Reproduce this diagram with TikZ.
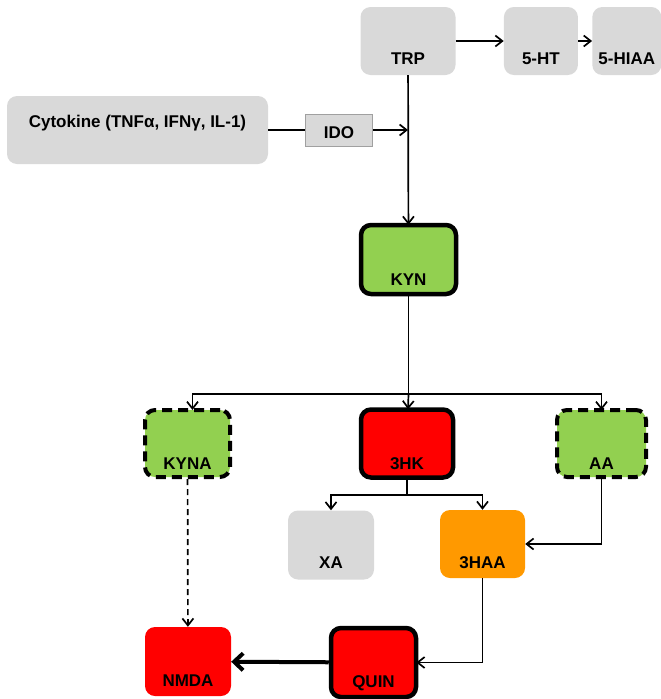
\documentclass[tikz,border=0pt]{standalone}
\usepackage{fontspec}
\setmainfont{Liberation Sans}
\usepackage{tikz}
\usetikzlibrary{arrows.meta,positioning,calc}
\definecolor{boxgrey}{HTML}{D9D9D9}
\definecolor{idoedge}{HTML}{A0A0A0}
\definecolor{kgreen}{HTML}{92D050}
\definecolor{kred}{HTML}{FF0000}
\definecolor{korange}{HTML}{FF9900}

\begin{document}
\begin{tikzpicture}[x=1pt, y=-1pt,
    box/.style={rounded corners=10pt, inner sep=0pt, text depth=9pt,
      font=\fontsize{17}{19}\selectfont\bfseries},
    dims/.style 2 args={minimum width=#1, text height=#2},
    strong/.style={draw=black, line width=4.5pt},
    weak/.style={draw=black, line width=4pt, dash pattern=on 10pt off 6pt},
    line/.style={line width=1.7pt},
    link/.style={line, -{Straight Barb[length=7pt,width=11pt]}}]
\useasboundingbox (0,0) rectangle (661,699);

% top row
\node[box, fill=boxgrey, dims={95pt}{57pt}, text depth=11pt] (trp) at (408,41) {TRP};
\node[box, fill=boxgrey, dims={74pt}{57pt}, text depth=11pt, right=48pt of trp] (ht) {5-HT};
\node[box, fill=boxgrey, dims={69pt}{57pt}, text depth=11pt, right=14pt of ht] (hiaa) {5-HIAA};
\node[box, fill=boxgrey, dims={261pt}{31pt}, text depth=37pt] (cyto) at (137.5,130) {Cytokine (TNFα, IFNγ, IL-1)};
\node[fill=boxgrey, draw=idoedge, line width=1pt, inner sep=0pt, minimum width=67pt,
  text height=24pt, text depth=8pt, font=\fontsize{17}{19}\selectfont\bfseries] (ido) at (339,130) {IDO};

% kynurenine branch
\node[box, fill=kgreen, strong, dims={95pt}{60pt}] (kyn) at (408.5,259.5) {KYN};
\node[box, fill=kgreen, weak, dims={85pt}{59pt}, text depth=8pt] (kyna) at (187.5,443.5) {KYNA};
\node[box, fill=kred, strong, dims={92pt}{60pt}, text depth=8pt] (hk) at (407,443.5) {3HK};
\node[box, fill=kgreen, weak, dims={89pt}{59pt}, text depth=8pt] (aa) at (601.5,443.5) {AA};
\node[box, fill=boxgrey, dims={86pt}{58pt}, text depth=11pt] (xa) at (331,545) {XA};
\node[box, fill=korange, dims={85pt}{58pt}, text depth=10pt] (haa) at (482.5,544) {3HAA};
\node[box, fill=kred, dims={86pt}{59pt}, text depth=10pt] (nmda) at (188,661.5) {NMDA};
\node[box, fill=kred, strong, dims={85pt}{59pt}, text depth=10pt] (quin) at (373.5,662.5) {QUIN};

\coordinate (trpline) at (trp.south |- ido.east);
\coordinate (split) at (kyn.south |- 0,394);
\coordinate (split2) at (hk.south |- 0,495);

\draw[link] (trp) -- (ht);
\draw[link] (ht) -- (hiaa);
\draw[line] (cyto) -- (ido);
\draw[link] (ido) -- (trpline);
\draw[link, shorten >=-2pt] (trp) -- (kyn);
\draw[line] (kyn) -- (split);
\draw[link, shorten >=-2pt] (split) -| ($(kyna.north)+(5,0)$);
\draw[link, shorten >=-2pt] (split) -- (hk);
\draw[link, shorten >=-2pt] (split) -| (aa);
\draw[line] (hk) -- (split2);
\draw[link] (split2) -| (xa);
\draw[link] (split2) -| (haa);
\draw[link] (aa) |- (haa);
\draw[link, shorten >=-2pt] (haa) |- (quin);
\draw[line width=4pt, -{Straight Barb[length=9pt,width=17pt]}] (quin) -- (nmda);
\draw[link, dash pattern=on 6pt off 4pt] (kyna) -- (nmda);
\end{tikzpicture}
\end{document}
